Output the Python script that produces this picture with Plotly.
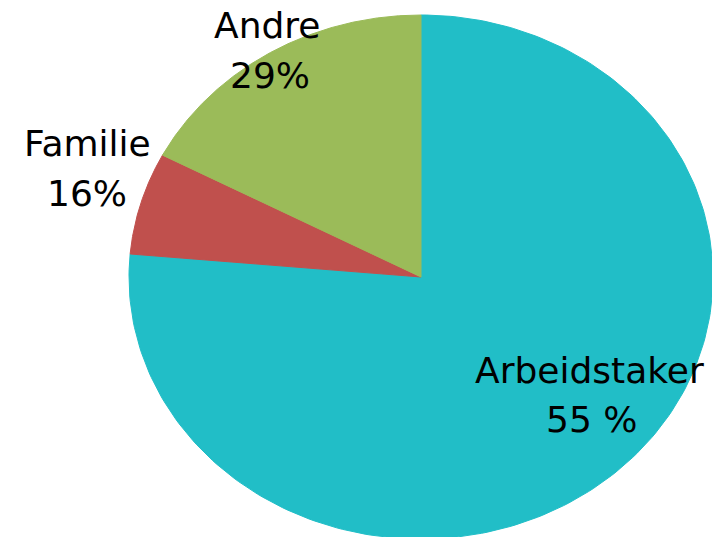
import numpy as np
import plotly.graph_objects as go

# Data (slice sizes read from the drawn wedges; label texts as printed)
categories = ["Arbeidstaker", "Familie", "Andre"]
values = [76.4, 6.3, 17.3]
percent_labels = ["55 %", "16%", "29%"]
colors = ["#21BEC7", "#C0504D", "#9BBB59"]

W, H = 712, 537
# Pie ellipse geometry in pixels (centre, radii)
CX, CY, RX, RY = 421, 277, 292, 262

fig = go.Figure()
total = float(sum(values))
start = 0.0
for cat, v, c in zip(categories, values, colors):
    a0 = start / total * 2 * np.pi
    a1 = (start + v) / total * 2 * np.pi
    t = np.linspace(a0, a1, 240)
    xs = np.concatenate([[0.0], np.sin(t), [0.0]])
    ys = np.concatenate([[0.0], np.cos(t), [0.0]])
    fig.add_trace(go.Scatter(
        x=xs, y=ys, fill="toself", fillcolor=c, mode="lines",
        line=dict(width=1, color=c), hoverinfo="text", text=cat,
        showlegend=False))
    start += v

# axis ranges so that unit circle maps to the ellipse in pixel space
x0 = -CX / RX
x1 = (W - CX) / RX
y1 = CY / RY
y0 = -(H - CY) / RY

def px2paper(px, py):
    return px / W, 1 - py / H

label_pos = {
    "Arbeidstaker": [(589, 370), (591, 419)],
    "Familie": [(87, 143), (87, 193)],
    "Andre": [(267, 25), (270, 75)],
}

font = dict(family="DejaVu Sans", size=36, color="#000000")
for cat, pct in zip(categories, percent_labels):
    (ax1, ay1), (ax2, ay2) = label_pos[cat]
    for txt, (px, py) in ((cat, (ax1, ay1)), (pct, (ax2, ay2))):
        xp, yp = px2paper(px, py)
        fig.add_annotation(x=xp, y=yp, xref="paper", yref="paper",
                           text=txt, showarrow=False, font=font,
                           xanchor="center", yanchor="middle")

fig.update_layout(
    width=W, height=H,
    margin=dict(l=0, r=0, t=0, b=0),
    paper_bgcolor="white", plot_bgcolor="white",
    xaxis=dict(range=[x0, x1], visible=False, fixedrange=True),
    yaxis=dict(range=[y0, y1], visible=False, fixedrange=True),
    showlegend=False,
)

fig.write_html(
    "out.html",
    config={"displayModeBar": False},
    post_script="document.body.style.margin='0';document.body.style.overflow='hidden';",
)
